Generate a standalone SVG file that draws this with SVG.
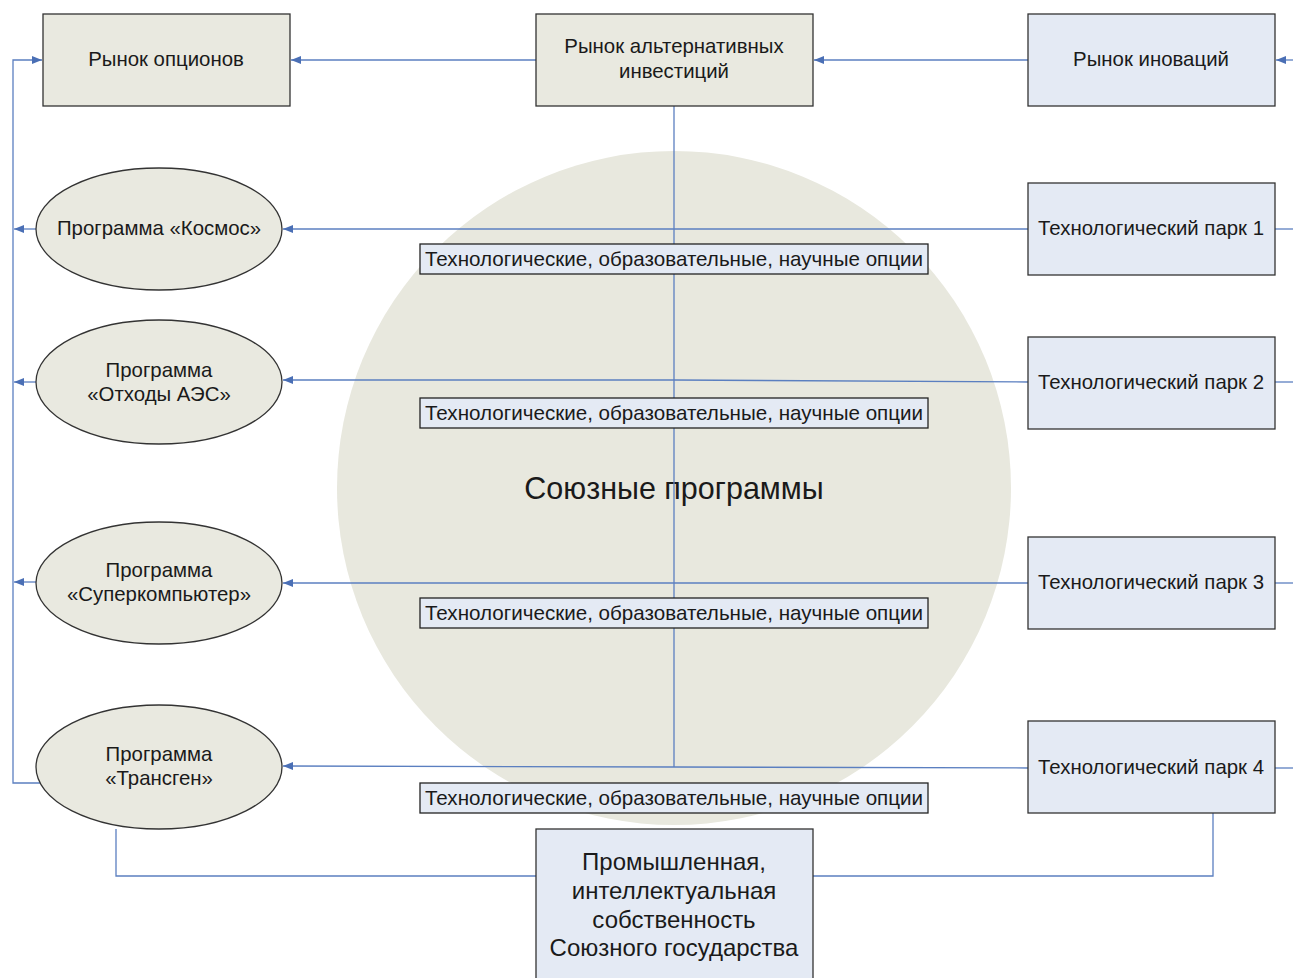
<svg xmlns="http://www.w3.org/2000/svg" width="1293" height="978" viewBox="0 0 1293 978">
<defs>
<marker id="arr" viewBox="0 0 10 8" refX="10" refY="4" markerWidth="10" markerHeight="8" markerUnits="userSpaceOnUse" orient="auto">
<path d="M0,0 L10,4 L0,8 Z" fill="#4a6fb5"/>
</marker>
<style>
text{font-family:"Liberation Sans",Arial,sans-serif;fill:#1a1a1a;text-anchor:middle}
.n{font-size:20.4px}
.lb{font-size:20.6px}
.big{font-size:30.5px}
.bb{font-size:24px}
.beige{fill:#e9e9e0;stroke:#333;stroke-width:1.3}
.blue{fill:#e4eaf4;stroke:#333;stroke-width:1.3}
.lab{fill:#e4eaf4;stroke:#222;stroke-width:1.3}
.c{fill:none;stroke:#5b7fc0;stroke-width:1.3}
.ca{fill:none;stroke:#5b7fc0;stroke-width:1.3;marker-end:url(#arr)}
</style>
</defs>
<rect width="1293" height="978" fill="#ffffff"/>
<circle cx="674" cy="488" r="337" fill="#e8e8de"/>
<text class="big" x="674" y="499">Союзные программы</text>

<g id="connectors">
<line class="ca" x1="536" y1="60" x2="291" y2="60"/>
<line class="ca" x1="1028" y1="60" x2="814" y2="60"/>
<line class="ca" x1="1293" y1="60" x2="1276" y2="60"/>
<line class="c" x1="674" y1="106" x2="674" y2="767"/>
<line class="ca" x1="1028" y1="229" x2="283" y2="229"/>
<polyline class="ca" points="1028,382 674,380 283,380"/>
<line class="ca" x1="1028" y1="583" x2="283" y2="583"/>
<polyline class="ca" points="1028,768 674,767 283,766"/>
<line class="c" x1="1275" y1="229" x2="1293" y2="229"/>
<line class="c" x1="1275" y1="382" x2="1293" y2="382"/>
<line class="c" x1="1275" y1="583" x2="1293" y2="583"/>
<line class="c" x1="1275" y1="768" x2="1293" y2="768"/>
<polyline class="ca" points="40,783 13,783 13,60 42,60"/>
<line class="ca" x1="36" y1="229" x2="14" y2="229"/>
<line class="ca" x1="36" y1="382" x2="14" y2="382"/>
<line class="ca" x1="36" y1="582" x2="14" y2="582"/>
<polyline class="c" points="116,829 116,876 536,876"/>
<polyline class="c" points="1213,813 1213,876 813,876"/>
</g>

<g id="n-options"><rect class="beige" x="43" y="14" width="247" height="92"/><text class="n" x="166" y="66">Рынок опционов</text></g>
<g id="n-alt"><rect class="beige" x="536" y="14" width="277" height="92"/><text class="n" x="674" y="53">Рынок альтернативных</text><text class="n" x="674" y="78">инвестиций</text></g>
<g id="n-innov"><rect class="blue" x="1028" y="14" width="247" height="92"/><text class="n" x="1151" y="66">Рынок иноваций</text></g>

<g id="n-park1"><rect class="blue" x="1028" y="183" width="247" height="92"/><text class="n" x="1151" y="235">Технологический парк 1</text></g>
<g id="n-park2"><rect class="blue" x="1028" y="337" width="247" height="92"/><text class="n" x="1151" y="389">Технологический парк 2</text></g>
<g id="n-park3"><rect class="blue" x="1028" y="537" width="247" height="92"/><text class="n" x="1151" y="589">Технологический парк 3</text></g>
<g id="n-park4"><rect class="blue" x="1028" y="721" width="247" height="92"/><text class="n" x="1151" y="774">Технологический парк 4</text></g>

<g id="n-kosmos"><ellipse class="beige" cx="159" cy="229" rx="123" ry="61"/><text class="n" x="159" y="235">Программа «Космос»</text></g>
<g id="n-aes"><ellipse class="beige" cx="159" cy="382" rx="123" ry="62"/><text class="n" x="159" y="377">Программа</text><text class="n" x="159" y="401">«Отходы АЭС»</text></g>
<g id="n-super"><ellipse class="beige" cx="159" cy="583" rx="123" ry="61"/><text class="n" x="159" y="577">Программа</text><text class="n" x="159" y="601">«Суперкомпьютер»</text></g>
<g id="n-transgen"><ellipse class="beige" cx="159" cy="767" rx="123" ry="62"/><text class="n" x="159" y="761">Программа</text><text class="n" x="159" y="785">«Трансген»</text></g>

<g id="l1"><rect class="lab" x="420" y="244" width="508" height="30"/><text class="lb" x="674" y="266">Технологические, образовательные, научные опции</text></g>
<g id="l2"><rect class="lab" x="420" y="398" width="508" height="30"/><text class="lb" x="674" y="420">Технологические, образовательные, научные опции</text></g>
<g id="l3"><rect class="lab" x="420" y="598" width="508" height="30"/><text class="lb" x="674" y="620">Технологические, образовательные, научные опции</text></g>
<g id="l4"><rect class="lab" x="420" y="783" width="508" height="30"/><text class="lb" x="674" y="805">Технологические, образовательные, научные опции</text></g>

<g id="n-property"><rect class="blue" x="536" y="829" width="277" height="160"/><text class="bb" x="674" y="870">Промышленная,</text><text class="bb" x="674" y="899">интеллектуальная</text><text class="bb" x="674" y="928">собственность</text><text class="bb" x="674" y="956">Союзного государства</text></g>
</svg>
